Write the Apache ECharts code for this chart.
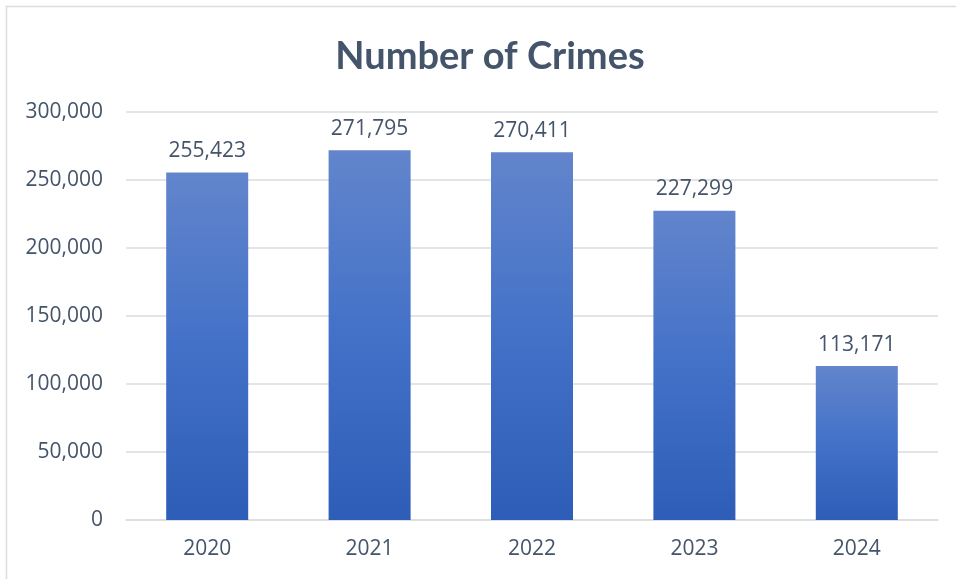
<!DOCTYPE html>
<html>
<head>
<meta charset="utf-8">
<script src="https://cdn.jsdelivr.net/npm/echarts@6/dist/echarts.min.js"></script>
<style>
html,body{margin:0;padding:0;background:#fff;}
#c{width:956px;height:579px;}
</style>
</head>
<body>
<div id="c"></div>
<script>
const categories = ['2020', '2021', '2022', '2023', '2024'];
const crimes = [255423, 271795, 270411, 227299, 113171];
const yTicks = { min: 0, max: 300000, interval: 50000 };

const textColor = '#44546A';
const chart = echarts.init(document.getElementById('c'), null, { renderer: 'canvas' });
chart.setOption({
  backgroundColor: '#ffffff',
  animation: false,
  graphic: [{
    type: 'rect',
    shape: { x: 6.5, y: 6.5, width: 1200, height: 1200 },
    style: { fill: 'none', stroke: '#D9DCE1', lineWidth: 1.5 },
    silent: true
  }],
  title: {
    text: 'Number of Crimes',
    left: 485,
    top: 33,
    textAlign: 'center',
    textStyle: { color: textColor, fontFamily: 'Lato', fontWeight: 'bold', fontSize: 38 }
  },
  grid: { left: 126, right: 18, top: 112, bottom: 59, containLabel: false },
  xAxis: {
    type: 'category',
    data: categories,
    axisLine: { show: true, lineStyle: { color: '#D9DCE1', width: 1.5 } },
    axisTick: { show: false },
    axisLabel: { color: textColor, fontFamily: 'Open Sans', fontSize: 21, margin: 19 }
  },
  yAxis: {
    type: 'value',
    min: yTicks.min, max: yTicks.max, interval: yTicks.interval,
    axisLine: { show: false },
    axisTick: { show: false },
    splitLine: { lineStyle: { color: '#D9DCE1', width: 1.5 } },
    axisLabel: {
      color: textColor, fontFamily: 'Open Sans', fontSize: 21, margin: 23,
      formatter: v => v.toLocaleString('en-US')
    }
  },
  series: [{
    type: 'bar',
    data: crimes,
    barWidth: '50.5%',
    itemStyle: {
      color: new echarts.graphic.LinearGradient(0, 0, 0, 1, [
        { offset: 0, color: '#6285CC' },
        { offset: 0.5, color: '#4371C8' },
        { offset: 1, color: '#2E5DB7' }
      ])
    },
    label: {
      show: true, position: 'top', distance: 11,
      color: textColor, fontFamily: 'Open Sans', fontSize: 21,
      formatter: p => p.value.toLocaleString('en-US')
    }
  }]
});
</script>
</body>
</html>
